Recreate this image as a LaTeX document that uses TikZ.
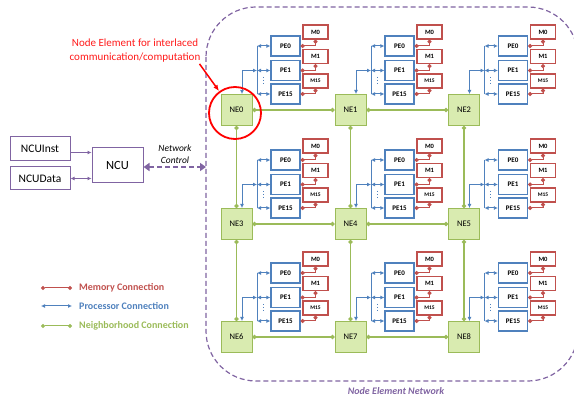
\documentclass[tikz,border=0pt]{standalone}
\usepackage{fontspec}
\setmainfont{Carlito}
\usepackage{tikz}
\usetikzlibrary{arrows.meta, positioning}

\definecolor{ncupurple}{HTML}{8064A2}
\definecolor{memred}{HTML}{C0504D}
\definecolor{procblue}{HTML}{4F81BD}
\definecolor{nbrgreen}{HTML}{9BBB59}
\definecolor{nefill}{HTML}{D9EBB0}
\definecolor{notered}{HTML}{FF1A1A}

\begin{document}
\begin{tikzpicture}[x = 1pt, y = -1pt,
  ne/.style = {draw = nbrgreen, fill = nefill, line width = 1pt, minimum width = 31pt,
    minimum height = 31pt, inner sep = 0pt, font = \fontsize{8.5}{10}\selectfont},
  pe/.style = {draw = procblue, fill = white, line width = 1.2pt, minimum width = 29pt,
    minimum height = 20pt, inner sep = 0pt, font = \bfseries\fontsize{7}{8}\selectfont},
  mem/.style = {draw = memred, fill = white, line width = 1.2pt, minimum width = 25pt,
    minimum height = 14pt, inner sep = 0pt, font = \bfseries\fontsize{6.5}{8}\selectfont},
  ncubox/.style = {draw = ncupurple, line width = 1pt, inner sep = 0pt},
  memline/.style = {draw = memred, line width = 1pt, {Circle[length = 4pt]}-{Circle[length = 4pt]}},
  procline/.style = {draw = procblue, line width = 1pt,
    {Latex[length = 4pt, width = 4pt]}-{Latex[length = 4pt, width = 4pt]}},
  nbrline/.style = {draw = nbrgreen, line width = 1.7pt, {Circle[length = 4pt]}-{Circle[length = 4pt]}},
  legendtext/.style = {anchor = west, inner sep = 0pt, font = \bfseries\fontsize{10}{12}\selectfont}]

\useasboundingbox (0, 0) rectangle (574, 398);

% node element network frame
\draw[ncupurple, dashed, dash pattern = on 5pt off 3pt, line width = 1.2pt, rounded corners = 50pt]
  (206, 7) rectangle (578, 381);
\node[ncupurple, font = \bfseries\itshape\fontsize{10}{12}\selectfont] (netlabel) at (396, 391)
  {Node Element Network};

% node elements with their processors and memories
\foreach \n/\cx/\cy in {0/236.5/110, 1/350.5/110, 2/464/110,
                        3/236.5/224, 4/350.5/224, 5/464/224,
                        6/236.5/337, 7/350.5/337, 8/464/337} {
  \node[ne] (ne\n) at (\cx, \cy) {NE\n};
  \node[pe] (pe0-\n) at (\cx + 49, \cy - 64) {PE0};
  \node[pe] (pe1-\n) at (\cx + 49, \cy - 39.5) {PE1};
  \node[pe] (pe15-\n) at (\cx + 49, \cy - 16) {PE15};
  \node[mem] (m0-\n) at (\cx + 79, \cy - 78) {M0};
  \node[mem] (m1-\n) at (\cx + 79, \cy - 53.5) {M1};
  \node[mem, font = \bfseries\fontsize{5.5}{7}\selectfont] (m15-\n) at (\cx + 79, \cy - 29) {M15};
  % memory connections
  \draw[memline] (pe0-\n.east) -| (m0-\n.south);
  \draw[memline] (pe1-\n.east) -| (m1-\n.south);
  \draw[memline] (pe15-\n.east) -| (m15-\n.south);
  % processor bus
  \coordinate (bust\n) at (\cx + 20.5, \cy - 64);
  \coordinate (busm\n) at (\cx + 20.5, \cy - 39.5);
  \coordinate (busb\n) at (\cx + 20.5, \cy - 16);
  \draw[procblue, line width = 1pt] (bust\n) -- (busb\n);
  \draw[procline] ([xshift = 5.5pt]ne\n.north) |- (busm\n);
  \draw[procline] (bust\n) -- (pe0-\n.west);
  \draw[procline] (busm\n) -- (pe1-\n.west);
  \draw[procline] (busb\n) -- (pe15-\n.west);
  \draw[procblue, line width = 1pt, dotted] (\cx + 26.5, \cy - 33) -- (\cx + 26.5, \cy - 26);
}

% neighborhood connections
\foreach \a/\b in {0/1, 1/2, 3/4, 4/5, 6/7, 7/8}
  \draw[nbrline] (ne\a.east) -- (ne\b.west);
\foreach \a/\b in {0/3, 3/6, 1/4, 4/7, 2/5, 5/8}
  \draw[nbrline] (ne\a.south) -- (ne\b.north);

% network control unit
\node[ncubox, minimum width = 60pt, minimum height = 24pt, font = \fontsize{11.5}{13}\selectfont]
  (ncuinst) at (40, 149) {NCUInst};
\node[ncubox, minimum width = 60pt, minimum height = 23pt, font = \fontsize{11.5}{13}\selectfont]
  (ncudata) at (40, 178.5) {NCUData};
\node[ncubox, minimum width = 51pt, minimum height = 35pt, font = \fontsize{12.5}{14}\selectfont]
  (ncu) at (117.5, 165.5) {NCU};
\draw[ncupurple, line width = 1pt, -{Latex[length = 4pt, width = 4pt]}]
  ([yshift = -3.5pt]ncuinst.east) -- ([yshift = -3.5pt]ncuinst.east -| ncu.west);
\draw[ncupurple, line width = 1pt, {Latex[length = 4pt, width = 4pt]}-{Latex[length = 4pt, width = 4pt]}]
  (ncudata.east) -- (ncudata.east -| ncu.west);
\coordinate (netin) at (206, 167);
\draw[ncupurple, line width = 2pt, dashed, dash pattern = on 5pt off 3pt,
  {Triangle[length = 6pt, width = 8pt]}-{Triangle[length = 6pt, width = 8pt]}]
  (ncu.east |- netin) -- (netin);
\node[align = center, font = \itshape\fontsize{9.5}{11.5}\selectfont] (netctl) at (175, 154)
  {Network\\Control};

% annotation of NE0
\node[draw = red, circle, line width = 1.8pt, minimum size = 52pt] (focus) at (235, 113) {};
\node[notered, align = center, inner sep = 1pt, font = \fontsize{11}{14}\selectfont] (annot)
  at (135, 51) {Node Element for interlaced\\communication/computation};
\coordinate (annottip) at (219, 91);
\draw[red, line width = 1.5pt, -{Latex[length = 6pt, width = 5pt]}]
  ([xshift = -2pt]annot.south east) -- (annottip);

% legend
\coordinate (lgm) at (41, 288);
\coordinate (lgp) at (41, 306);
\coordinate (lgn) at (41, 326);
\draw[memline] (lgm) -- ++(31, 0);
\draw[procline] (lgp) -- ++(31, 0);
\draw[nbrline, line width = 1pt] (lgn) -- ++(31, 0);
\node[legendtext, memred] (lgmtext) at (79, 288) {Memory Connection};
\node[legendtext, procblue] (lgptext) at (79, 306) {Processor Connection};
\node[legendtext, nbrgreen] (lgntext) at (79, 326) {Neighborhood Connection};

\end{tikzpicture}
\end{document}
